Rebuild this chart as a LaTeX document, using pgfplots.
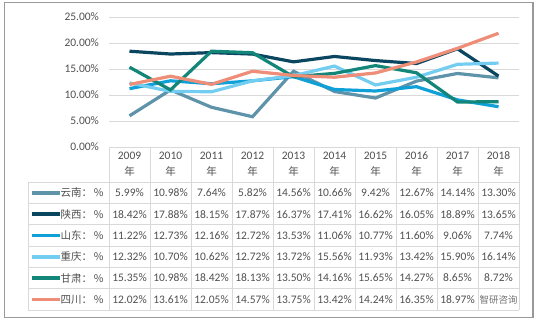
\documentclass[border=0pt]{standalone}
\usepackage{pgfplots}
\pgfplotsset{compat=1.18}
\usepackage{fontspec}
\setmainfont{Carlito}
\newfontfamily\cjk{Noto Sans CJK SC}
\definecolor{yn}{HTML}{5E93A9}
\definecolor{sx}{HTML}{0B4660}
\definecolor{sd}{HTML}{0FA0D8}
\definecolor{cq}{HTML}{72CDF1}
\definecolor{gs}{HTML}{128678}
\definecolor{sc}{HTML}{EE8E78}
\definecolor{txt}{HTML}{505050}
\definecolor{gridc}{HTML}{D9D9D9}
\begin{document}
\begin{tikzpicture}[x=1pt,y=1pt]
\path (0,0) rectangle (538,323);
\draw[color=black!40, line width=1.2pt] (4.3,5.3) rectangle (533,320.7);
\begin{axis}[at={(109pt,176pt)}, anchor=south west, scale only axis,
  width=410pt, height=130pt, xmin=-0.5, xmax=9.5, ymin=0, ymax=25,
  axis line style={draw=none}, ymajorgrids, grid style={gridc, line width=0.8pt},
  ytick={0,5,10,15,20,25}, xtick=\empty, major tick length=0pt,
  yticklabel={\pgfmathprintnumber[fixed,fixed zerofill,precision=2,assume math mode=true]{\tick}\%},
  yticklabel style={anchor=east, xshift=-6.5pt, font=\fontsize{11.5}{13}\selectfont, text=txt},
  clip=false]
\addplot[yn, line width=3.2pt] coordinates {(0,5.99)(1,10.98)(2,7.64)(3,5.82)(4,14.56)(5,10.66)(6,9.42)(7,12.67)(8,14.14)(9,13.30)};
\addplot[sx, line width=3.2pt] coordinates {(0,18.42)(1,17.88)(2,18.15)(3,17.87)(4,16.37)(5,17.41)(6,16.62)(7,16.05)(8,18.89)(9,13.65)};
\addplot[sd, line width=3.2pt] coordinates {(0,11.22)(1,12.73)(2,12.16)(3,12.72)(4,13.53)(5,11.06)(6,10.77)(7,11.60)(8,9.06)(9,7.74)};
\addplot[cq, line width=3.2pt] coordinates {(0,12.32)(1,10.70)(2,10.62)(3,12.72)(4,13.72)(5,15.56)(6,11.93)(7,13.42)(8,15.90)(9,16.14)};
\addplot[gs, line width=3.2pt] coordinates {(0,15.35)(1,10.98)(2,18.42)(3,18.13)(4,13.50)(5,14.16)(6,15.65)(7,14.27)(8,8.65)(9,8.72)};
\addplot[sc, line width=3.2pt] coordinates {(0,12.02)(1,13.61)(2,12.05)(3,14.57)(4,13.75)(5,13.42)(6,14.24)(7,16.35)(8,18.97)(9,21.87)};
\end{axis}
% table lines
\foreach \i in {0,...,10} \draw[gridc, line width=0.8pt] (109+41*\i,176) -- (109+41*\i,13);
\draw[gridc, line width=0.8pt] (28.3,140.7) -- (28.3,13);
\foreach \k in {0,...,6} \draw[gridc, line width=0.8pt] (28.3,140.7-21.28*\k) -- (519,140.7-21.28*\k);
% header
\foreach \yr [count=\i from 0] in {2009,2010,2011,2012,2013,2014,2015,2016,2017,2018} {
  \node[text=txt, font=\fontsize{11.5}{13}\selectfont] at (129.5+41*\i,167) {\yr};
  \node[text=txt, font=\fontsize{10.5}{12}\selectfont\cjk] at (129.5+41*\i,151.5) {年};
}
% rows
\foreach \name/\col/\vals [count=\k from 0] in {
  云南/yn/{5.99,10.98,7.64,5.82,14.56,10.66,9.42,12.67,14.14,13.30},
  陕西/sx/{18.42,17.88,18.15,17.87,16.37,17.41,16.62,16.05,18.89,13.65},
  山东/sd/{11.22,12.73,12.16,12.72,13.53,11.06,10.77,11.60,9.06,7.74},
  重庆/cq/{12.32,10.70,10.62,12.72,13.72,15.56,11.93,13.42,15.90,16.14},
  甘肃/gs/{15.35,10.98,18.42,18.13,13.50,14.16,15.65,14.27,8.65,8.72},
  四川/sc/{12.02,13.61,12.05,14.57,13.75,13.42,14.24,16.35,18.97,{}}} {
  \draw[\col, line width=3.6pt] (31.5,130.05-21.28*\k) -- (60,130.05-21.28*\k);
  \node[anchor=west, inner sep=0pt, text=txt, font=\fontsize{10.5}{12}\selectfont\cjk] at (60.5,130.05-21.28*\k) {\name：\,\%};
  \foreach \v [count=\i from 0] in \vals
    \node[text=txt, font=\fontsize{11.5}{13}\selectfont] at (129.5+41*\i,130.05-21.28*\k) {\ifx\v\empty\else\v\%\fi};
}
% watermark (covers the 2018 value in the reference)
\node[text=black!55, inner sep=0pt, font=\fontsize{9.5}{11}\selectfont\cjk] at (498.5,23.5) {智研咨询};
\end{tikzpicture}
\end{document}
